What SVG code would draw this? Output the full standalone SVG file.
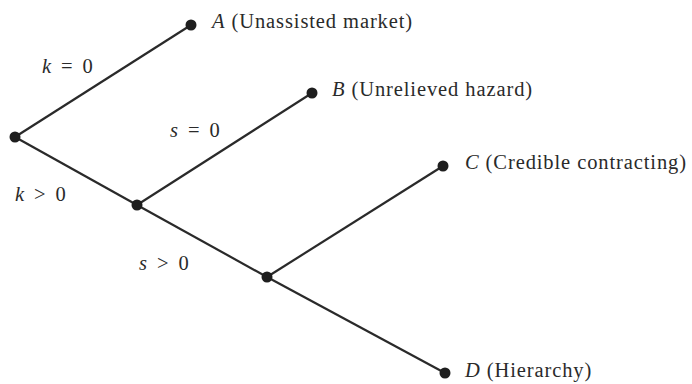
<svg xmlns="http://www.w3.org/2000/svg" width="692" height="384" viewBox="0 0 692 384">
<style>
.e{stroke:#2a2a2a;stroke-width:2.2;fill:none}
.d{fill:#1e1e1e}
.t{font-family:"Liberation Serif","Times New Roman",serif;font-size:20.5px;letter-spacing:0.9px;fill:#2a2a2a}
.m{word-spacing:3px}
.i{font-style:italic}
</style>
<rect width="692" height="384" fill="#ffffff"/>
<g id="connectors">
<line class="e" x1="15" y1="137" x2="191" y2="25"/>
<line class="e" x1="15" y1="137" x2="137" y2="205"/>
<line class="e" x1="137" y1="205" x2="312" y2="93"/>
<line class="e" x1="137" y1="205" x2="267" y2="277"/>
<line class="e" x1="267" y1="277" x2="443" y2="166"/>
<line class="e" x1="267" y1="277" x2="445" y2="373"/>
<text class="t m" x="42" y="73"><tspan class="i">k</tspan> = 0</text>
<text class="t m" x="15" y="201"><tspan class="i">k</tspan> &gt; 0</text>
<text class="t m" x="170" y="137"><tspan class="i">s</tspan> = 0</text>
<text class="t m" x="139" y="270"><tspan class="i">s</tspan> &gt; 0</text>
</g>
<g id="root"><circle class="d" cx="15" cy="137" r="5.5"/></g>
<g id="n2"><circle class="d" cx="137" cy="205" r="5.5"/></g>
<g id="n3"><circle class="d" cx="267" cy="277" r="5.5"/></g>
<g id="A"><circle class="d" cx="191" cy="25" r="5.5"/><text class="t" x="212" y="28"><tspan class="i">A</tspan> (Unassisted market)</text></g>
<g id="B"><circle class="d" cx="312" cy="93" r="5.5"/><text class="t" x="332" y="96"><tspan class="i">B</tspan> (Unrelieved hazard)</text></g>
<g id="C"><circle class="d" cx="443" cy="166" r="5.5"/><text class="t" x="465" y="169"><tspan class="i">C</tspan> (Credible contracting)</text></g>
<g id="D"><circle class="d" cx="445" cy="373" r="5.5"/><text class="t" x="465" y="377"><tspan class="i">D</tspan> (Hierarchy)</text></g>
</svg>
